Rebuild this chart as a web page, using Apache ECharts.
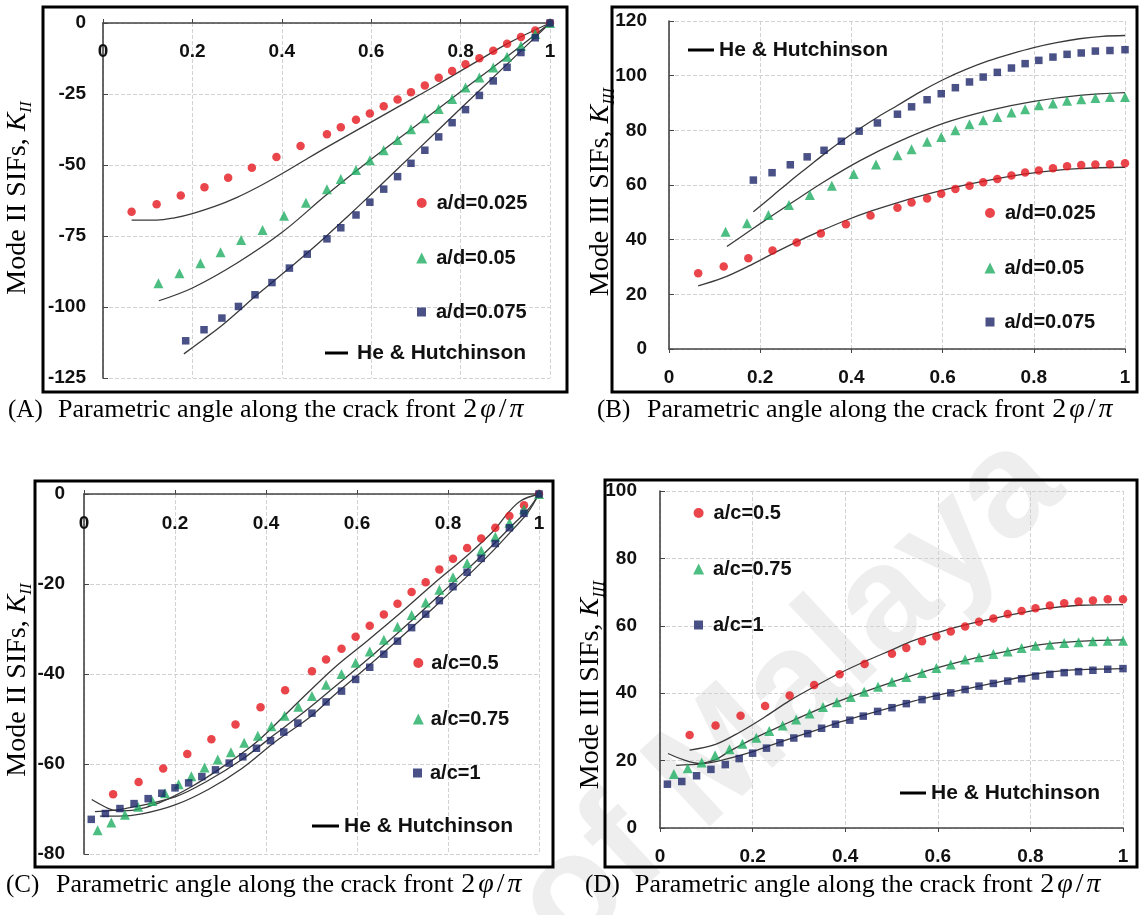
<!DOCTYPE html>
<html><head><meta charset="utf-8">
<script src="https://cdn.jsdelivr.net/npm/echarts@6/dist/echarts.min.js"></script>
<style>html,body{margin:0;padding:0;background:#fff;}#c{width:1139px;height:915px;}</style>
</head><body><div id="c"></div>
<script>
// ---------- x positions (parametric angle 2phi/pi) ----------
const xAd025 = [0.064,0.120,0.174,0.227,0.280,0.333,0.388,0.442,0.501,0.532,0.566,0.597,0.628,0.659,0.689,0.720,0.751,0.781,0.811,0.842,0.873,0.904,0.935,0.967,1.0];
const xAd050 = [0.124,0.171,0.218,0.263,0.309,0.357,0.405,0.454,0.501,0.532,0.566,0.597,0.628,0.659,0.689,0.720,0.751,0.781,0.811,0.842,0.873,0.904,0.935,0.967,1.0];
const xAd075 = [0.185,0.226,0.266,0.303,0.340,0.378,0.417,0.457,0.501,0.532,0.566,0.597,0.628,0.659,0.689,0.720,0.751,0.781,0.811,0.842,0.873,0.904,0.935,0.967,1.0];
const xAc05  = [0.064,0.120,0.174,0.227,0.280,0.333,0.388,0.442,0.501,0.532,0.566,0.597,0.628,0.659,0.689,0.720,0.751,0.781,0.811,0.842,0.873,0.904,0.935,0.967,1.0];
const xAc075 = [0.030,0.060,0.090,0.119,0.150,0.178,0.208,0.236,0.265,0.294,0.323,0.352,0.382,0.412,0.441,0.471,0.501,0.532,0.566,0.597,0.628,0.659,0.689,0.720,0.751,0.781,0.811,0.842,0.873,0.904,0.935,0.967,1.0];
const xAc1   = [0.016,0.047,0.079,0.110,0.141,0.171,0.200,0.230,0.259,0.289,0.319,0.349,0.379,0.410,0.439,0.470,0.501,0.532,0.566,0.597,0.628,0.659,0.689,0.720,0.751,0.781,0.811,0.842,0.873,0.904,0.935,0.967,1.0];

// ---------- (A) Mode II, a/d ----------
const aRed   = [-66.5,-63.8,-60.7,-57.8,-54.5,-51.0,-47.2,-43.3,-39.2,-36.7,-34.1,-31.9,-29.3,-26.9,-24.4,-22.0,-19.3,-16.9,-14.5,-12.4,-9.8,-7.3,-4.9,-2.6,0];
const aGreen = [-91.6,-88.1,-84.6,-80.7,-76.4,-72.9,-67.9,-63.3,-58.5,-54.9,-51.8,-48.3,-44.8,-41.2,-37.4,-33.5,-30.3,-26.8,-22.7,-19.2,-15.7,-11.9,-8.1,-3.9,0];
const aBlue  = [-111.9,-108.0,-103.9,-99.8,-95.7,-91.4,-86.3,-81.4,-76.0,-72.1,-67.6,-63.1,-58.5,-54.1,-49.4,-44.8,-40.1,-35.1,-30.5,-25.5,-20.4,-15.6,-10.4,-5.2,0];
const hhA1x = [0.064,0.120,0.160,0.200,0.250,0.300,0.350,0.400,0.450,0.502,0.583,0.664,0.746,0.827,0.908,1.0];
const hhA1y = [-69.4,-69.4,-68.6,-67.1,-64.6,-61.4,-57.5,-53.1,-48.4,-43.6,-36.4,-29.2,-21.9,-14.4,-7.0,0];
const hhA2x = [0.125,0.200,0.300,0.400,0.500,0.600,0.700,0.800,0.900,1.0];
const hhA2y = [-97.8,-93.3,-84.5,-73.8,-60.5,-48.0,-36.2,-24.2,-12.3,0];
const hhA3x = [0.181,0.224,0.266,0.303,0.340,0.378,0.417,0.457,0.500,0.546,0.600,0.700,0.800,0.900,1.0];
const hhA3y = [-116.5,-111.5,-106.5,-101.5,-96.3,-91.4,-86.3,-81.0,-75.0,-68.3,-60.3,-45.2,-30.1,-15.1,0];

// ---------- (B) Mode III, a/d ----------
const bRed   = [27.7,30.2,33.2,36.0,39.0,42.3,45.6,48.8,51.7,53.6,55.1,56.8,58.5,59.7,61.0,62.2,63.5,64.6,65.3,66.1,66.9,67.3,67.5,67.6,68.0];
const bGreen = [42.9,46.0,49.0,52.7,56.3,59.7,64.0,67.5,70.9,73.1,75.8,77.6,80.0,82.2,83.7,84.9,86.5,87.7,89.2,89.8,90.8,91.4,91.8,92.2,92.2];
const bBlue  = [61.8,64.5,67.4,70.3,72.7,76.0,79.7,82.7,85.9,88.6,91.2,93.4,95.6,97.7,99.5,101.2,102.8,104.4,105.6,106.8,107.8,108.3,109.0,109.2,109.5];
const hhB1x = [0.064,0.118,0.173,0.229,0.281,0.334,0.390,0.444,0.500,0.579,0.658,0.738,0.817,0.897,1.0];
const hhB1y = [23.1,26.0,30.2,35.0,39.3,43.3,47.2,50.5,53.5,57.2,60.3,62.9,64.8,66.0,66.5];
const hhB2x = [0.127,0.181,0.229,0.269,0.340,0.420,0.500,0.603,0.700,0.800,0.900,1.0];
const hhB2y = [37.5,43.7,49.1,53.5,61.2,69.0,75.6,82.6,87.2,90.6,92.8,93.8];
const hhB3x = [0.185,0.227,0.265,0.304,0.340,0.378,0.417,0.458,0.500,0.550,0.602,0.650,0.700,0.750,0.800,0.850,0.900,0.950,1.0];
const hhB3y = [50.2,56.0,61.3,66.5,71.3,76.0,80.5,84.9,89.0,94.0,98.6,102.2,105.4,108.0,110.3,112.1,113.5,114.4,114.7];

// ---------- (C) Mode II, a/c ----------
const cRed   = [-66.7,-64.0,-61.0,-57.8,-54.5,-51.2,-47.4,-43.6,-39.4,-36.8,-34.4,-31.7,-29.3,-26.8,-24.4,-21.8,-19.6,-16.8,-14.4,-12.0,-9.9,-7.5,-4.9,-2.5,0];
const cGreen = [-74.7,-73.0,-71.3,-69.5,-68.2,-66.5,-64.5,-62.7,-60.8,-59.0,-57.4,-55.3,-53.7,-51.6,-49.3,-47.3,-44.9,-42.4,-40.0,-37.5,-35.0,-32.4,-29.5,-26.9,-24.1,-21.3,-18.5,-15.4,-12.6,-9.5,-6.4,-3.4,0];
const cBlue  = [-72.3,-71.0,-69.9,-68.8,-67.7,-66.5,-65.3,-64.2,-62.8,-61.3,-59.8,-58.4,-56.5,-54.8,-52.9,-50.9,-48.7,-46.2,-43.8,-41.2,-38.5,-35.6,-32.7,-29.7,-26.7,-23.7,-20.6,-17.4,-14.3,-11.0,-7.5,-4.3,0];
const hhC1x = [0.017,0.054,0.076,0.112,0.164,0.237,0.311,0.384,0.457,0.549,0.623,0.696,0.769,0.843,0.902,0.931,0.960,1.0];
const hhC1y = [-67.9,-69.9,-70.4,-70.2,-68.7,-65.0,-60.2,-54.7,-47.6,-38.7,-32.6,-26.4,-19.9,-13.6,-8.0,-4.3,-1.5,0];
const hhC2x = [0.035,0.076,0.127,0.200,0.274,0.347,0.421,0.494,0.549,0.623,0.696,0.769,0.843,0.902,0.946,0.975,1.0];
const hhC2y = [-71.6,-71.6,-71.1,-69.1,-65.6,-61.0,-55.0,-49.8,-44.8,-38.4,-31.9,-25.2,-18.2,-12.3,-7.5,-4.2,0];
const hhC3x = [0.024,0.091,0.200,0.274,0.347,0.421,0.494,0.549,0.623,0.696,0.769,0.843,0.902,0.946,0.975,1.0];
const hhC3y = [-70.6,-69.9,-67.3,-63.6,-59.0,-53.3,-47.6,-43.0,-36.8,-30.3,-23.6,-16.7,-11.0,-6.5,-3.6,0];

// ---------- (D) Mode III, a/c ----------
const dRed   = [27.6,30.4,33.3,36.2,39.3,42.4,45.6,48.7,51.7,53.4,55.4,56.8,58.3,59.8,61.2,62.2,63.5,64.4,65.2,66.0,66.7,67.2,67.5,67.9,67.9];
const dGreen = [16.0,17.7,19.4,21.6,23.4,25.0,26.8,28.8,30.4,32.2,34.0,35.9,37.3,38.9,40.4,41.9,43.4,44.8,46.0,47.5,48.5,50.0,50.7,51.6,52.4,53.4,54.1,54.4,54.9,55.1,55.4,55.6,55.6];
const dBlue  = [13.0,13.8,15.5,17.4,18.8,20.6,22.2,23.7,25.3,26.7,28.0,29.6,30.8,32.0,33.2,34.6,35.7,36.9,38.1,39.1,40.1,41.1,42.1,42.9,43.6,44.3,45.1,45.6,46.1,46.4,46.8,47.1,47.3];
const hhD1x = [0.064,0.120,0.173,0.227,0.280,0.334,0.389,0.444,0.500,0.547,0.619,0.691,0.763,0.835,0.907,1.0];
const hhD1y = [23.1,24.8,28.5,33.0,37.8,42.0,46.0,49.5,52.8,55.6,58.8,61.3,63.4,65.2,66.1,66.3];
const hhD2x = [0.017,0.050,0.084,0.120,0.148,0.206,0.265,0.322,0.382,0.441,0.502,0.566,0.628,0.689,0.751,0.811,0.873,0.935,1.0];
const hhD2y = [22.1,20.3,19.2,20.3,22.6,26.8,30.5,34.0,37.4,40.4,43.3,46.2,48.6,50.7,52.5,54.2,55.1,55.6,55.8];
const hhD3x = [0.035,0.090,0.130,0.199,0.259,0.319,0.379,0.440,0.502,0.566,0.628,0.689,0.751,0.811,0.873,0.935,1.0];
const hhD3y = [18.6,19.0,20.0,22.6,25.5,28.2,31.0,33.5,35.9,38.3,40.3,42.1,43.9,45.7,46.7,47.1,47.3];

// ---------- names / labels ----------
const namesAB = ['a/d=0.025','a/d=0.05','a/d=0.075'];
const namesCD = ['a/c=0.5','a/c=0.75','a/c=1'];
const hhName = 'He & Hutchinson';
const captions = ['(A)','(B)','(C)','(D)'];
const captionText = 'Parametric angle along the crack front ';
const yTitleII = ['Mode II SIFs, ','K','II'];
const yTitleIII = ['Mode III SIFs, ','K','III'];
const watermark = 'of Malaya';

// ---------- styling ----------
const RED = '#e3161d', GREEN = '#1fae63', NAVY = '#1b2668', LINE = '#3a3a3a';
const tickFont = {fontFamily:'Liberation Sans', fontWeight:'bold', fontSize:19, color:'#111'};
const legFont = {fontFamily:'Liberation Sans', fontWeight:'bold', fontSize:20, color:'#111'};
const serif = 'Liberation Serif';

function pts(xs, ys){ return xs.map((x,i)=>[x, ys[i]]); }

function xAx(gi, pos, margin){
  return {type:'value', gridIndex:gi, min:0, max:1, interval:0.2, position:pos,
    axisLine:{show:true, onZero:false, lineStyle:{color:'#444', width:1.6}},
    axisTick:{show:true, length:4, lineStyle:{color:'#444'}},
    axisLabel:Object.assign({inside: pos==='top', margin:margin}, tickFont),
    splitLine:{show:true, lineStyle:{type:'dashed', color:'#d2d2d2', width:1}}};
}
function yAx(gi, min, max, interval, margin){
  return {type:'value', gridIndex:gi, min:min, max:max, interval:interval,
    axisLine:{show:true, onZero:false, lineStyle:{color:'#444', width:1.6}},
    axisTick:{show:true, inside:true, length:5, lineStyle:{color:'#444'}},
    axisLabel:Object.assign({margin:margin}, tickFont),
    splitLine:{show:true, lineStyle:{type:'dashed', color:'#d2d2d2', width:1}}};
}
function sc(name, gi, xs, ys, symbol, size, color){
  return {type:'scatter', name:name, xAxisIndex:gi, yAxisIndex:gi, data:pts(xs,ys),
    symbol:symbol, symbolSize:size, itemStyle:{color:color}, z:4};
}
function hh(gi, xs, ys){
  return {type:'line', name:hhName, xAxisIndex:gi, yAxisIndex:gi, data:pts(xs,ys),
    showSymbol:false, symbol:'none', smooth:0.35, color:LINE,
    lineStyle:{color:LINE, width:1.3}, itemStyle:{color:'#000'}, z:3};
}
function leg(name, icon, left, cy, w, h, pad, fs){
  return {data:[{name:name, icon:icon}], left:left, top:cy-11, orient:'vertical',
    itemWidth:w, itemHeight:h, padding:0, selectedMode:false,
    textStyle:Object.assign({}, legFont, {padding:[0,0,0,pad], lineHeight:22, fontSize:fs||20})};
}
function box(x1,y1,x2,y2){
  return {type:'rect', shape:{x:x1,y:y1,width:x2-x1,height:y2-y1},
    style:{fill:null, stroke:'#000', lineWidth:3}, z:10, silent:true};
}
function ytitle(x, y, parts){
  return {type:'text', x:x, y:y, rotation:Math.PI/2, z:10, silent:true,
    style:{text:'{n|'+parts[0]+'}{k|'+parts[1]+'}{s|'+parts[2]+'}', align:'center', verticalAlign:'middle',
      rich:{n:{fontFamily:serif, fontSize:28, fill:'#000', lineHeight:34, verticalAlign:'middle'},
            k:{fontFamily:serif, fontStyle:'italic', fontSize:28, fill:'#000', lineHeight:34, verticalAlign:'middle'},
            s:{fontFamily:serif, fontStyle:'italic', fontSize:17, fill:'#000', lineHeight:34, verticalAlign:'bottom'}}}};
}
function caption(x, y, tag){
  return {type:'text', x:x, y:y, z:10, silent:true,
    style:{text:'{t|'+tag+'}{n|'+captionText+'}{m|2}{i|φ}{m|/}{i|π}', align:'left', verticalAlign:'top',
      rich:{t:{fontFamily:serif, fontSize:25, fill:'#000', width:50},
            n:{fontFamily:serif, fontSize:26, fill:'#000'},
            m:{fontFamily:serif, fontSize:28, fill:'#000', padding:[0,1,0,1]},
            i:{fontFamily:serif, fontStyle:'italic', fontSize:28, fill:'#000', padding:[0,2,0,2]}}}};
}

const option = {
  animation:false,
  backgroundColor:'#fff',
  grid:[
    {left:103, top:23, width:447, height:355, outerBoundsMode:'none'},
    {left:669, top:21, width:456, height:328, outerBoundsMode:'none'},
    {left:84, top:494, width:455, height:360, outerBoundsMode:'none'},
    {left:660, top:491, width:463, height:337, outerBoundsMode:'none'}
  ],
  xAxis:[xAx(0,'top',19), xAx(1,'bottom',19), xAx(2,'top',20), xAx(3,'bottom',19)],
  yAxis:[yAx(0,-125,0,25,17), yAx(1,0,120,20,22), yAx(2,-80,0,20,19), yAx(3,0,100,20,23)],
  legend:[
    leg(namesAB[0],'circle',416.7,203,10,10,5),
    leg(namesAB[1],'triangle',416.2,258,11,11,4),
    leg(namesAB[2],'rect',417,312,9,9,5),
    leg(hhName,'rect',325,353,23,3,4,21),
    leg(hhName,'rect',688,50,26,3,0,21),
    leg(namesAB[0],'circle',985,213,10,10,5),
    leg(namesAB[1],'triangle',984.5,268,11,11,4),
    leg(namesAB[2],'rect',985.5,322,9,9,5),
    leg(namesCD[0],'circle',413.3,663,10,10,3),
    leg(namesCD[1],'triangle',412.8,719,11,11,2),
    leg(namesCD[2],'rect',413,773,9,9,3),
    leg(hhName,'rect',312,826,27,3,0,21),
    leg(namesCD[0],'circle',693.6,513,10,10,5),
    leg(namesCD[1],'triangle',693.1,569,11,11,4),
    leg(namesCD[2],'rect',694,625,9,9,5),
    leg(hhName,'rect',900,793,26,3,0,21)
  ],
  graphic:[
    {type:'text', x:790, y:695, rotation:0.75, z:-1, silent:true,
      style:{text:watermark, font:'bold 150px "Liberation Sans"', fill:'rgba(0,0,0,0.065)', align:'center', verticalAlign:'middle'}},
    box(43,7,567,392), box(612,7,1137,392), box(35,481,553,867), box(605,480,1137,867),
    ytitle(18,198,yTitleII), ytitle(601,192,yTitleIII), ytitle(18,680,yTitleII), ytitle(591,685,yTitleIII),
    caption(8,396,captions[0]), caption(597,396,captions[1]), caption(6,871,captions[2]), caption(585,871,captions[3])
  ],
  series:[
    hh(0,hhA1x,hhA1y), hh(0,hhA2x,hhA2y), hh(0,hhA3x,hhA3y),
    sc(namesAB[0],0,xAd025,aRed,'circle',8.5,RED),
    sc(namesAB[1],0,xAd050,aGreen,'triangle',10,GREEN),
    sc(namesAB[2],0,xAd075,aBlue,'rect',7.5,NAVY),
    hh(1,hhB1x,hhB1y), hh(1,hhB2x,hhB2y), hh(1,hhB3x,hhB3y),
    sc(namesAB[0],1,xAd025,bRed,'circle',8.5,RED),
    sc(namesAB[1],1,xAd050,bGreen,'triangle',10,GREEN),
    sc(namesAB[2],1,xAd075,bBlue,'rect',7.5,NAVY),
    hh(2,hhC1x,hhC1y), hh(2,hhC2x,hhC2y), hh(2,hhC3x,hhC3y),
    sc(namesCD[0],2,xAc05,cRed,'circle',8.5,RED),
    sc(namesCD[1],2,xAc075,cGreen,'triangle',10,GREEN),
    sc(namesCD[2],2,xAc1,cBlue,'rect',7.5,NAVY),
    hh(3,hhD1x,hhD1y), hh(3,hhD2x,hhD2y), hh(3,hhD3x,hhD3y),
    sc(namesCD[0],3,xAc05,dRed,'circle',8.5,RED),
    sc(namesCD[1],3,xAc075,dGreen,'triangle',10,GREEN),
    sc(namesCD[2],3,xAc1,dBlue,'rect',7.5,NAVY)
  ]
};
const chart = echarts.init(document.getElementById('c'), null, {renderer:'canvas'});
chart.setOption(option);
</script></body></html>
